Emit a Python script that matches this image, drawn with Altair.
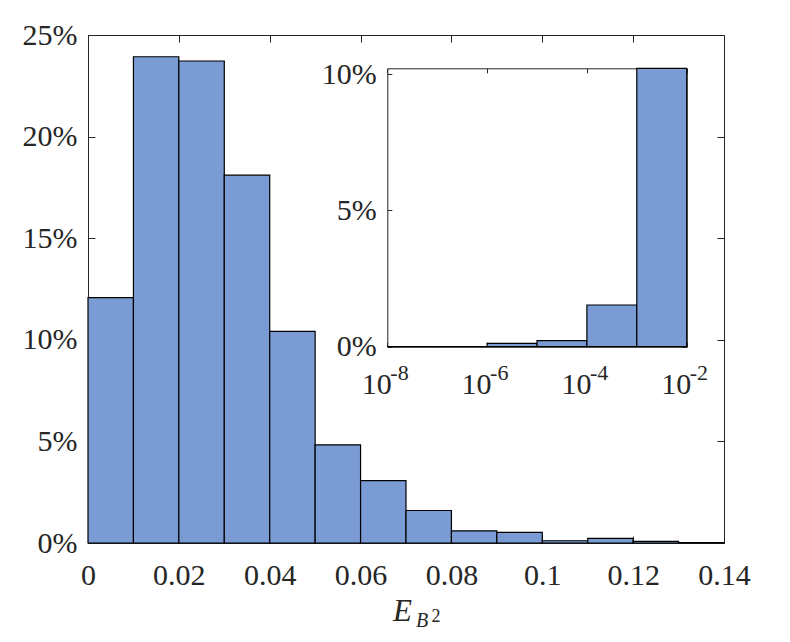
import altair as alt
import pandas as pd

# ---- data ----
main_lo = [0.00, 0.01, 0.02, 0.03, 0.04, 0.05, 0.06, 0.07, 0.08, 0.09, 0.10, 0.11, 0.12, 0.13]
main_hi = [0.01, 0.02, 0.03, 0.04, 0.05, 0.06, 0.07, 0.08, 0.09, 0.10, 0.11, 0.12, 0.13, 0.14]
main_pct = [12.08, 23.93, 23.72, 18.10, 10.41, 4.83, 3.07, 1.60, 0.60, 0.52, 0.11, 0.23, 0.08, 0.02]

inset_lo = [1e-8, 1e-7, 1e-6, 1e-5, 1e-4, 1e-3]
inset_hi = [1e-7, 1e-6, 1e-5, 1e-4, 1e-3, 1e-2]
inset_pct = [0.0, 0.0, 0.125, 0.22, 1.53, 10.21]

main_x_ticks = [0, 0.02, 0.04, 0.06, 0.08, 0.10, 0.12, 0.14]
main_y_ticks = [0, 5, 10, 15, 20, 25]
inset_x_ticks = [1e-8, 1e-6, 1e-4, 1e-2]
inset_x_base = "10"
inset_x_exps = ["-8", "-6", "-4", "-2"]
inset_y_ticks = [0, 5, 10]

title_parts = ["E", "B", "2"]

# ---- layout / style ----
W, H = 636, 508
IX0, IX1 = 299.3, 598.7     # inset horizontal pixel range
IY0, IY1 = 311.7, 33.3      # inset vertical pixel range (bottom, top)
FILL = "#7A9BD3"
INK = "#262626"
FONT = "'Liberation Serif', 'Times New Roman', Times, serif"
FS = 30

main_df = pd.DataFrame({"lo": main_lo, "hi": main_hi, "pct": main_pct})
inset_df = pd.DataFrame({"lo": inset_lo, "hi": inset_hi, "pct": inset_pct})
exp_df = pd.DataFrame({"v": inset_x_ticks, "e": inset_x_exps})

xs = alt.Scale(domain=[0, 0.14], nice=False, zero=False)
ys = alt.Scale(domain=[0, 25], nice=False)
ixs = alt.Scale(type="log", domain=[1e-8, 1e-2], range=[IX0, IX1], nice=False)
iys = alt.Scale(domain=[0, 10.21], range=[IY0, IY1], nice=False)


def lab_axis(orient, values, offset, pad, expr=None, fmt=None, domain=False, loff=0):
    kw = dict(orient=orient, values=values, offset=offset, ticks=False, tickSize=0,
              domain=domain, domainColor=INK, domainWidth=1, grid=False,
              labelFont=FONT, labelFontSize=FS, labelColor=INK, labelPadding=pad,
              labelFlush=False, labelOverlap=False, labelBound=False, title=None,
              labelOffset=loff)
    if expr is not None:
        kw["labelExpr"] = expr
    if fmt is not None:
        kw["format"] = fmt
    return alt.Axis(**kw)


def tick_axis(orient, values, offset, size, domain=False):
    return alt.Axis(orient=orient, values=values, offset=offset, ticks=True, tickSize=size,
                    tickColor=INK, tickWidth=1, labels=False, domain=domain,
                    domainColor=INK, domainWidth=1, grid=False, title=None)


pct_expr = "datum.value + '%'"
base_expr = "'%s'" % inset_x_base

# main histogram
main_bars = alt.Chart(main_df).mark_bar(fill=FILL, stroke="black", strokeWidth=1.2).encode(
    x=alt.X("lo:Q", scale=xs, axis=lab_axis("bottom", main_x_ticks, 0, 17.5, fmt="~g")),
    x2="hi:Q",
    y=alt.Y("pct:Q", scale=ys, axis=lab_axis("left", main_y_ticks, 0, 11, expr=pct_expr)),
    y2=alt.datum(0),
)
# inward ticks: bottom & left
main_t1 = alt.Chart(main_df).mark_point(opacity=0).encode(
    x=alt.X("lo:Q", scale=xs, axis=tick_axis("top", main_x_ticks, -H, 7)),
    y=alt.Y("pct:Q", scale=ys, axis=tick_axis("right", main_y_ticks, -W, 7)),
)
# inward ticks: top & right
main_t2 = alt.Chart(main_df).mark_point(opacity=0).encode(
    x=alt.X("lo:Q", scale=xs, axis=tick_axis("bottom", main_x_ticks, -H, 7)),
    y=alt.Y("pct:Q", scale=ys, axis=tick_axis("left", main_y_ticks, -W, 7)),
)

# inset histogram
inset_bars = alt.Chart(inset_df).mark_bar(fill=FILL, stroke="black", strokeWidth=1.2).encode(
    x=alt.X("lo:Q", scale=ixs,
            axis=lab_axis("bottom", inset_x_ticks, IY0 - H, 23, expr=base_expr,
                          domain=True, loff=-11)),
    x2="hi:Q",
    y=alt.Y("pct:Q", scale=iys,
            axis=lab_axis("left", inset_y_ticks, -IX0, 11, expr=pct_expr, domain=True)),
    y2=alt.datum(0),
)
inset_t1 = alt.Chart(inset_df).mark_point(opacity=0).encode(
    x=alt.X("lo:Q", scale=ixs, axis=tick_axis("top", inset_x_ticks, -IY0, 4.5)),
    y=alt.Y("pct:Q", scale=iys, axis=tick_axis("right", inset_y_ticks, IX0 - W, 4.5)),
)
inset_t2 = alt.Chart(inset_df).mark_point(opacity=0).encode(
    x=alt.X("lo:Q", scale=ixs, axis=tick_axis("bottom", inset_x_ticks, IY1 - H, 4.5, domain=True)),
    y=alt.Y("pct:Q", scale=iys, axis=tick_axis("left", inset_y_ticks, -IX1, 4.5, domain=True)),
)
# exponents of the inset tick labels
inset_exp = alt.Chart(exp_df).mark_text(
    font=FONT, fontSize=22, align="left", baseline="alphabetic", color=INK, dx=3
).encode(
    x=alt.X("v:Q", scale=ixs, axis=None),
    y=alt.value(IY0 + 33.3),
    text="e:N",
)

# x-axis title  E_{B^2}
t_E = alt.Chart(pd.DataFrame({"t": [title_parts[0]]})).mark_text(
    font=FONT, fontStyle="italic", fontSize=31, align="left", baseline="alphabetic", color=INK
).encode(text="t:N", x=alt.value(305), y=alt.value(585.7))
t_B = alt.Chart(pd.DataFrame({"t": [title_parts[1]]})).mark_text(
    font=FONT, fontStyle="italic", fontSize=20, align="left", baseline="alphabetic", color=INK
).encode(text="t:N", x=alt.value(328), y=alt.value(592.3))
t_2 = alt.Chart(pd.DataFrame({"t": [title_parts[2]]})).mark_text(
    font=FONT, fontSize=18, align="left", baseline="alphabetic", color=INK
).encode(text="t:N", x=alt.value(343.5), y=alt.value(587.3))

chart = alt.layer(
    main_bars, main_t1, main_t2, inset_bars, inset_t1, inset_t2, inset_exp, t_E, t_B, t_2
).resolve_scale(
    x="independent", y="independent"
).resolve_axis(
    x="independent", y="independent"
).properties(
    width=W, height=H,
    padding={"left": 80, "top": 27, "right": 50, "bottom": 95},
    autosize="none",
    background="white",
).configure_view(stroke=INK, strokeWidth=1)

chart.save("out.html", embed_options={"renderer": "svg", "actions": False})
